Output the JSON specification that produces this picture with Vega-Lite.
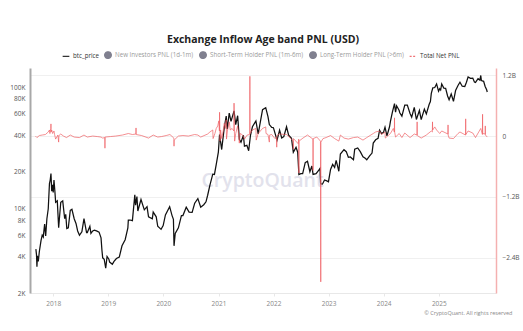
{
  "$schema": "https://vega.github.io/schema/vega-lite/v6.json",
  "width": 466,
  "height": 225,
  "autosize": {"type": "none"},
  "padding": {"left": 30, "top": 68, "right": 27, "bottom": 38},
  "background": "white",
  "title": {"text": "Exchange Inflow Age band PNL (USD)", "fontSize": 10.5, "fontWeight": "bold", "font": "Open Sans", "color": "#222222", "anchor": "middle", "offset": 6},
  "datasets": {
    "btc": [
      {"d":"2017-09-08","p":4600},{"d":"2017-09-12","p":4150},{"d":"2017-09-15","p":3300},{"d":"2017-09-18","p":4050},{"d":"2017-09-24","p":3650},{"d":"2017-10-01","p":4400},{"d":"2017-10-12","p":5400},{"d":"2017-10-20","p":6000},{"d":"2017-10-27","p":5800},{"d":"2017-11-05","p":7400},{"d":"2017-11-12","p":5900},{"d":"2017-11-20","p":8200},{"d":"2017-11-29","p":9900},{"d":"2017-12-07","p":16000},{"d":"2017-12-12","p":17100},{"d":"2017-12-17","p":19300},{"d":"2017-12-22","p":13800},{"d":"2017-12-27","p":15600},
      {"d":"2018-01-01","p":13500},{"d":"2018-01-06","p":17100},{"d":"2018-01-12","p":13800},{"d":"2018-01-17","p":11200},{"d":"2018-01-28","p":11500},{"d":"2018-02-06","p":6900},{"d":"2018-02-12","p":8500},{"d":"2018-02-20","p":11200},{"d":"2018-03-05","p":11500},{"d":"2018-03-18","p":8200},{"d":"2018-03-25","p":8900},{"d":"2018-04-01","p":6800},{"d":"2018-04-11","p":6900},{"d":"2018-04-24","p":9600},{"d":"2018-05-05","p":9800},{"d":"2018-05-20","p":8200},{"d":"2018-06-01","p":7500},{"d":"2018-06-12","p":6500},{"d":"2018-06-24","p":6000},{"d":"2018-07-10","p":6400},{"d":"2018-07-24","p":8200},{"d":"2018-08-10","p":6300},{"d":"2018-08-15","p":6300},{"d":"2018-09-01","p":7100},{"d":"2018-09-08","p":6200},{"d":"2018-09-20","p":6500},{"d":"2018-10-01","p":6600},{"d":"2018-10-15","p":6500},{"d":"2018-11-01","p":6350},{"d":"2018-11-14","p":5700},{"d":"2018-11-20","p":4500},{"d":"2018-11-25","p":3900},{"d":"2018-12-05","p":3800},{"d":"2018-12-15","p":3200},{"d":"2018-12-24","p":4000},
      {"d":"2019-01-05","p":3800},{"d":"2019-01-10","p":3600},{"d":"2019-01-28","p":3450},{"d":"2019-02-08","p":3650},{"d":"2019-02-24","p":3850},{"d":"2019-03-15","p":3950},{"d":"2019-04-02","p":4900},{"d":"2019-04-23","p":5500},{"d":"2019-05-11","p":6900},{"d":"2019-05-14","p":8000},{"d":"2019-05-25","p":8000},{"d":"2019-06-10","p":7900},{"d":"2019-06-26","p":12900},{"d":"2019-07-01","p":10600},{"d":"2019-07-10","p":12500},{"d":"2019-07-16","p":9500},{"d":"2019-08-06","p":11800},{"d":"2019-08-28","p":9700},{"d":"2019-09-15","p":10300},{"d":"2019-09-25","p":8500},{"d":"2019-10-20","p":8200},{"d":"2019-10-26","p":9300},{"d":"2019-11-15","p":8500},{"d":"2019-11-25","p":7100},{"d":"2019-12-17","p":6700},{"d":"2019-12-31","p":7200},
      {"d":"2020-01-15","p":8800},{"d":"2020-02-12","p":10300},{"d":"2020-02-28","p":8700},{"d":"2020-03-08","p":8100},{"d":"2020-03-12","p":4900},{"d":"2020-03-20","p":6200},{"d":"2020-04-10","p":6900},{"d":"2020-04-30","p":8700},{"d":"2020-05-10","p":8700},{"d":"2020-06-01","p":10200},{"d":"2020-06-20","p":9300},{"d":"2020-07-10","p":9250},{"d":"2020-07-27","p":11000},{"d":"2020-08-17","p":12000},{"d":"2020-09-05","p":10200},{"d":"2020-09-25","p":10700},{"d":"2020-10-10","p":11300},{"d":"2020-10-21","p":12800},{"d":"2020-11-05","p":15500},{"d":"2020-11-24","p":19100},{"d":"2020-12-05","p":19000},{"d":"2020-12-17","p":23000},{"d":"2020-12-31","p":29000},
      {"d":"2021-01-08","p":40500},{"d":"2021-01-22","p":30500},{"d":"2021-02-08","p":46000},{"d":"2021-02-21","p":57500},{"d":"2021-02-28","p":45000},{"d":"2021-03-13","p":61000},{"d":"2021-03-25","p":52000},{"d":"2021-04-14","p":63500},{"d":"2021-04-25","p":49000},{"d":"2021-05-08","p":58000},{"d":"2021-05-19","p":37000},{"d":"2021-05-30","p":35000},{"d":"2021-06-15","p":40000},{"d":"2021-06-22","p":32500},{"d":"2021-07-08","p":33000},{"d":"2021-07-20","p":29800},{"d":"2021-08-01","p":40000},{"d":"2021-08-14","p":47000},{"d":"2021-09-06","p":52500},{"d":"2021-09-21","p":41000},{"d":"2021-10-01","p":48000},{"d":"2021-10-20","p":65000},{"d":"2021-11-10","p":67500},{"d":"2021-11-25","p":57000},{"d":"2021-12-04","p":49000},{"d":"2021-12-20","p":46500},{"d":"2021-12-31","p":46200},
      {"d":"2022-01-10","p":41800},{"d":"2022-01-24","p":36500},{"d":"2022-02-10","p":44000},{"d":"2022-02-24","p":38000},{"d":"2022-03-10","p":39000},{"d":"2022-03-28","p":47000},{"d":"2022-04-11","p":40000},{"d":"2022-04-30","p":37700},{"d":"2022-05-12","p":29000},{"d":"2022-05-30","p":31800},{"d":"2022-06-10","p":29000},{"d":"2022-06-18","p":19000},{"d":"2022-07-01","p":19300},{"d":"2022-07-13","p":19300},{"d":"2022-07-30","p":23800},{"d":"2022-08-14","p":24400},{"d":"2022-08-30","p":20000},{"d":"2022-09-12","p":22300},{"d":"2022-09-20","p":19000},{"d":"2022-10-10","p":19300},{"d":"2022-10-28","p":20600},{"d":"2022-11-05","p":21300},{"d":"2022-11-09","p":15900},{"d":"2022-11-21","p":15800},{"d":"2022-12-05","p":17100},{"d":"2022-12-20","p":16800},{"d":"2022-12-31","p":16550},
      {"d":"2023-01-14","p":20900},{"d":"2023-01-28","p":23000},{"d":"2023-02-10","p":21700},{"d":"2023-02-20","p":24800},{"d":"2023-03-10","p":20200},{"d":"2023-03-20","p":28000},{"d":"2023-04-13","p":30400},{"d":"2023-04-28","p":29300},{"d":"2023-05-12","p":26300},{"d":"2023-05-25","p":26500},{"d":"2023-06-15","p":25100},{"d":"2023-06-23","p":30700},{"d":"2023-07-13","p":31400},{"d":"2023-07-30","p":29300},{"d":"2023-08-17","p":26600},{"d":"2023-09-01","p":25800},{"d":"2023-09-11","p":25100},{"d":"2023-09-30","p":27000},{"d":"2023-10-16","p":28500},{"d":"2023-10-24","p":34500},{"d":"2023-11-09","p":36700},{"d":"2023-11-25","p":37700},{"d":"2023-12-05","p":44000},{"d":"2023-12-18","p":41300},{"d":"2023-12-31","p":42300},
      {"d":"2024-01-10","p":46600},{"d":"2024-01-23","p":39500},{"d":"2024-02-09","p":47000},{"d":"2024-02-15","p":52000},{"d":"2024-02-28","p":62000},{"d":"2024-03-13","p":73000},{"d":"2024-03-20","p":62000},{"d":"2024-03-27","p":70000},{"d":"2024-04-13","p":64000},{"d":"2024-04-17","p":61300},{"d":"2024-05-01","p":57500},{"d":"2024-05-20","p":71000},{"d":"2024-06-06","p":71000},{"d":"2024-06-24","p":60500},{"d":"2024-07-05","p":56500},{"d":"2024-07-22","p":68000},{"d":"2024-08-05","p":54000},{"d":"2024-08-25","p":64000},{"d":"2024-09-06","p":53900},{"d":"2024-09-27","p":65800},{"d":"2024-10-10","p":60000},{"d":"2024-10-29","p":72000},{"d":"2024-11-06","p":75800},{"d":"2024-11-12","p":88500},{"d":"2024-11-22","p":98500},{"d":"2024-12-05","p":99000},{"d":"2024-12-17","p":106000},{"d":"2024-12-30","p":92500},
      {"d":"2025-01-07","p":96900},{"d":"2025-01-13","p":94500},{"d":"2025-01-20","p":106000},{"d":"2025-02-03","p":98000},{"d":"2025-02-15","p":97500},{"d":"2025-02-28","p":84300},{"d":"2025-03-10","p":78500},{"d":"2025-03-24","p":87500},{"d":"2025-04-08","p":76300},{"d":"2025-04-22","p":93500},{"d":"2025-05-08","p":103000},{"d":"2025-05-21","p":109500},{"d":"2025-06-05","p":101500},{"d":"2025-06-22","p":101000},{"d":"2025-07-03","p":109500},{"d":"2025-07-14","p":121000},{"d":"2025-07-30","p":118000},{"d":"2025-08-14","p":118500},{"d":"2025-08-25","p":110000},{"d":"2025-09-01","p":109000},{"d":"2025-09-18","p":117000},{"d":"2025-09-30","p":114000},{"d":"2025-10-06","p":124500},{"d":"2025-10-10","p":113000},{"d":"2025-10-25","p":111500},{"d":"2025-11-04","p":101000},{"d":"2025-11-14","p":95000},{"d":"2025-11-18","p":91000}
    ],
    "pnl": [
      {"d":"2017-09-05","v":0},{"d":"2017-09-15","v":-3e7},{"d":"2017-10-01","v":1e7},{"d":"2017-10-20","v":2e7},{"d":"2017-11-10","v":3e7},{"d":"2017-11-29","v":8e7},{"d":"2017-12-07","v":1.2e8},{"d":"2017-12-10","v":5e7},{"d":"2017-12-16","v":1.5e8},{"d":"2017-12-17","v":2.4e8},{"d":"2017-12-18","v":8e7},{"d":"2017-12-22","v":1.2e8},{"d":"2017-12-28","v":5e7},
      {"d":"2018-01-06","v":1e8},{"d":"2018-01-10","v":3e7},{"d":"2018-01-17","v":-6e7},{"d":"2018-02-01","v":2e7},{"d":"2018-02-06","v":-1.2e8},{"d":"2018-02-08","v":1e7},{"d":"2018-02-20","v":4e7},{"d":"2018-03-10","v":0},{"d":"2018-03-30","v":-3e7},{"d":"2018-04-24","v":2e7},{"d":"2018-05-20","v":-2e7},{"d":"2018-06-24","v":-3e7},{"d":"2018-07-24","v":2e7},{"d":"2018-08-15","v":-2e7},{"d":"2018-09-20","v":0},{"d":"2018-10-20","v":-1e7},{"d":"2018-11-14","v":-2e7},{"d":"2018-11-25","v":-4e7},{"d":"2018-12-09","v":-3e7},{"d":"2018-12-10","v":-2.4e8},{"d":"2018-12-11","v":-2e7},
      {"d":"2019-01-15","v":-1e7},{"d":"2019-02-20","v":0},{"d":"2019-04-05","v":2e7},{"d":"2019-05-14","v":5e7},{"d":"2019-06-10","v":3e7},{"d":"2019-07-03","v":4e7},{"d":"2019-07-04","v":1.6e8},{"d":"2019-07-05","v":3e7},{"d":"2019-08-10","v":1e7},{"d":"2019-09-25","v":-4e7},{"d":"2019-10-26","v":2e7},{"d":"2019-11-25","v":-2e7},{"d":"2019-12-20","v":-1e7},
      {"d":"2020-01-20","v":1e7},{"d":"2020-02-14","v":3e7},{"d":"2020-03-11","v":-4e7},{"d":"2020-03-12","v":-2e8},{"d":"2020-03-13","v":-8e7},{"d":"2020-04-10","v":0},{"d":"2020-05-10","v":1e7},{"d":"2020-06-15","v":0},{"d":"2020-07-27","v":3e7},{"d":"2020-08-17","v":2e7},{"d":"2020-09-05","v":-2e7},{"d":"2020-10-21","v":4e7},{"d":"2020-11-05","v":8e7},{"d":"2020-11-24","v":1.2e8},{"d":"2020-11-26","v":-5e7},{"d":"2020-12-08","v":5e7},{"d":"2020-12-17","v":1.5e8},{"d":"2020-12-27","v":2e8},
      {"d":"2021-01-03","v":3e8},{"d":"2021-01-07","v":1e8},{"d":"2021-01-08","v":4.7e8},{"d":"2021-01-10","v":1e8},{"d":"2021-01-11","v":-1e8},{"d":"2021-01-15","v":1.2e8},{"d":"2021-01-22","v":-5e7},{"d":"2021-02-01","v":1e8},{"d":"2021-02-08","v":2.5e8},{"d":"2021-02-15","v":1.5e8},{"d":"2021-02-21","v":3.2e8},{"d":"2021-02-23","v":-6e7},{"d":"2021-03-01","v":1e8},{"d":"2021-03-13","v":2.8e8},{"d":"2021-03-20","v":1.2e8},{"d":"2021-04-01","v":1.5e8},{"d":"2021-04-13","v":1e8},{"d":"2021-04-14","v":6.5e8},{"d":"2021-04-16","v":1.2e8},{"d":"2021-04-18","v":-1e8},{"d":"2021-04-25","v":5e7},{"d":"2021-05-08","v":2e8},{"d":"2021-05-12","v":1e8},{"d":"2021-05-19","v":-1.4e8},{"d":"2021-05-25","v":5e7},{"d":"2021-06-10","v":2e7},{"d":"2021-06-22","v":-6e7},{"d":"2021-07-10","v":2e7},{"d":"2021-07-27","v":3e7},{"d":"2021-07-28","v":1.18e9},{"d":"2021-07-29","v":5e7},{"d":"2021-08-14","v":1.2e8},{"d":"2021-09-06","v":1.5e8},{"d":"2021-09-08","v":-8e7},{"d":"2021-09-21","v":5e7},{"d":"2021-10-20","v":1.5e8},{"d":"2021-11-10","v":1.8e8},{"d":"2021-11-12","v":5e7},{"d":"2021-11-25","v":3e7},{"d":"2021-12-04","v":-1.2e8},{"d":"2021-12-06","v":2e7},{"d":"2021-12-20","v":3e7},
      {"d":"2022-01-10","v":-5e7},{"d":"2022-01-21","v":-3e7},{"d":"2022-01-22","v":-2.2e8},{"d":"2022-01-23","v":1e7},{"d":"2022-02-10","v":4e7},{"d":"2022-03-28","v":3e7},{"d":"2022-04-20","v":-3e7},{"d":"2022-05-11","v":-1e8},{"d":"2022-05-12","v":-2.6e8},{"d":"2022-05-13","v":-5e7},{"d":"2022-06-13","v":-1.5e8},{"d":"2022-06-17","v":-6e7},{"d":"2022-06-18","v":-7.3e8},{"d":"2022-06-19","v":-1e8},{"d":"2022-07-15","v":-4e7},{"d":"2022-08-14","v":2e7},{"d":"2022-09-19","v":-6e7},{"d":"2022-09-20","v":-6.8e8},{"d":"2022-09-21","v":-5e7},{"d":"2022-10-15","v":-2e7},{"d":"2022-11-08","v":-1e8},{"d":"2022-11-10","v":-2.88e9},{"d":"2022-11-11","v":-1.2e8},{"d":"2022-11-25","v":-5e7},{"d":"2022-12-15","v":-3e7},
      {"d":"2023-01-14","v":1e7},{"d":"2023-02-10","v":-5e7},{"d":"2023-03-10","v":-1e8},{"d":"2023-03-20","v":2e7},{"d":"2023-04-13","v":-4e7},{"d":"2023-05-12","v":-6e7},{"d":"2023-06-15","v":-3e7},{"d":"2023-07-13","v":-2e7},{"d":"2023-08-17","v":-8e7},{"d":"2023-09-11","v":-3e7},{"d":"2023-10-24","v":5e7},{"d":"2023-11-09","v":8e7},{"d":"2023-12-05","v":1e8},{"d":"2023-12-18","v":3e7},
      {"d":"2024-01-10","v":8e7},{"d":"2024-01-12","v":-4e7},{"d":"2024-02-15","v":5e7},{"d":"2024-03-05","v":1.5e8},{"d":"2024-03-12","v":8e7},{"d":"2024-03-13","v":3.6e8},{"d":"2024-03-14","v":8e7},{"d":"2024-03-20","v":-2e7},{"d":"2024-04-13","v":5e7},{"d":"2024-05-01","v":-3e7},{"d":"2024-05-20","v":6e7},{"d":"2024-06-24","v":-3e7},{"d":"2024-07-22","v":4e7},{"d":"2024-08-09","v":2e7},{"d":"2024-08-10","v":2.8e8},{"d":"2024-08-11","v":1e7},{"d":"2024-09-06","v":-4e7},{"d":"2024-10-10","v":2e7},{"d":"2024-11-12","v":1e8},{"d":"2024-11-19","v":8e7},{"d":"2024-11-20","v":2.8e8},{"d":"2024-11-21","v":1.2e8},{"d":"2024-12-05","v":1.8e8},{"d":"2024-12-17","v":1.2e8},
      {"d":"2025-01-07","v":5e7},{"d":"2025-01-20","v":1e8},{"d":"2025-03-02","v":4e7},{"d":"2025-03-03","v":2.2e8},{"d":"2025-03-04","v":2e7},{"d":"2025-03-10","v":-4e7},{"d":"2025-04-08","v":-5e7},{"d":"2025-05-08","v":5e7},{"d":"2025-05-21","v":8e7},{"d":"2025-06-27","v":2e7},{"d":"2025-06-28","v":3.4e8},{"d":"2025-06-29","v":3e7},{"d":"2025-07-14","v":1e8},{"d":"2025-08-14","v":6e7},{"d":"2025-09-01","v":-3e7},{"d":"2025-10-06","v":1.5e8},{"d":"2025-10-17","v":3e7},{"d":"2025-10-18","v":4.3e8},{"d":"2025-10-19","v":5e7},{"d":"2025-11-04","v":4e7},{"d":"2025-11-05","v":2e8},{"d":"2025-11-06","v":2e7},{"d":"2025-11-18","v":-2e7}
    ],
    "mark": [{"label": "CryptoQuant", "d": "2021-10-20", "p": 16800}]
  },
  "layer": [
    {
      "layer": [
        {
          "data": {"name": "mark"},
          "mark": {"type": "text", "font": "Open Sans", "fontSize": 19.5, "fontWeight": 600, "color": "#e2e2ec", "align": "center", "baseline": "middle"},
          "encoding": {
            "x": {"field": "d", "type": "temporal"},
            "y": {"field": "p", "type": "quantitative"},
            "text": {"field": "label"}
          }
        },
        {
          "data": {"name": "btc"},
          "mark": {"type": "line", "strokeWidth": 1.25, "interpolate": "linear"},
          "encoding": {
            "x": {
              "field": "d", "type": "temporal",
              "scale": {"domain": ["2017-07-31", "2026-01-15"]},
              "axis": {
                "title": "© CryptoQuant. All rights reserved",
                "titleFont": "Open Sans", "titleFontSize": 5.5, "titleFontWeight": "normal", "titleColor": "#888888",
                "titleAnchor": "end", "titleAlign": "right", "titleX": 482, "titleY": 19, "titleBaseline": "middle",
                "format": "%Y",
                "values": [{"year": 2018, "month": 1, "date": 1}, {"year": 2019, "month": 1, "date": 1}, {"year": 2020, "month": 1, "date": 1}, {"year": 2021, "month": 1, "date": 1}, {"year": 2022, "month": 1, "date": 1}, {"year": 2023, "month": 1, "date": 1}, {"year": 2024, "month": 1, "date": 1}, {"year": 2025, "month": 1, "date": 1}],
                "labelFont": "Open Sans", "labelFontSize": 6.5, "labelColor": "#888888", "labelPadding": 4,
                "domainColor": "#e8e8e8", "tickColor": "#e8e8e8", "tickSize": 3, "grid": false
              }
            },
            "y": {
              "field": "p", "type": "quantitative",
              "scale": {"type": "log", "domain": [2000, 143500], "nice": false},
              "axis": {
                "orient": "left", "title": null, "grid": false, "ticks": false,
                "values": [2000, 4000, 6000, 8000, 10000, 20000, 40000, 60000, 80000, 100000],
                "labelExpr": "(datum.value / 1000) + 'K'",
                "labelFont": "Open Sans", "labelFontSize": 6.5, "labelColor": "#555555", "labelPadding": 5,
                "domainColor": "#a8a8a8", "domainWidth": 2
              }
            },
            "color": {
              "datum": "btc_price", "type": "nominal",
              "scale": {
                "domain": ["btc_price", "New Investors PNL (1d-1m)", "Short-Term Holder PNL (1m-6m)", "Long-Term Holder PNL (>6m)", "Total Net PNL"],
                "range": ["#111111", "#6a6a7c", "#6a6a7c", "#6a6a7c", "#ee5a5f"]
              },
              "legend": {
                "orient": "none", "legendX": 32, "legendY": -17, "direction": "horizontal", "title": null,
                "labelFont": "Open Sans", "labelFontSize": 6.2, "labelLimit": 200, "columnPadding": 3, "labelOffset": 3,
                "labelColor": {"expr": "(datum.value == 'btc_price' || datum.value == 'Total Net PNL') ? '#333333' : '#9a9a9a'"},
                "symbolType": {"expr": "(datum.value == 'btc_price' || datum.value == 'Total Net PNL') ? 'stroke' : 'circle'"},
                "symbolFillColor": {"expr": "(datum.value == 'btc_price' || datum.value == 'Total Net PNL') ? 'transparent' : '#6a6a7c'"},
                "symbolDash": {"expr": "datum.value == 'Total Net PNL' ? [2, 1.5] : [1, 0]"},
                "symbolSize": 45, "symbolStrokeWidth": 1.2
              }
            }
          }
        }
      ]
    },
    {
      "data": {"name": "pnl"},
      "mark": {"type": "line", "strokeWidth": 0.8, "opacity": 0.85, "clip": true},
      "encoding": {
        "x": {"field": "d", "type": "temporal"},
        "y": {
          "field": "v", "type": "quantitative",
          "scale": {"domain": [-3.1e9, 1.344e9], "nice": false, "zero": false},
          "axis": {
            "orient": "right", "title": null, "ticks": false,
            "values": [-2400000000, -1200000000, 0, 1200000000],
            "labelExpr": "datum.value == 0 ? '0' : format(datum.value / 1e9, '.1f') + 'B'",
            "labelFont": "Open Sans", "labelFontSize": 6.5, "labelColor": "#555555", "labelPadding": 6,
            "grid": true, "gridColor": "#f0f0f0",
            "domainColor": "#f4b0b0", "domainWidth": 1.5
          }
        },
        "color": {"datum": "Total Net PNL", "type": "nominal"}
      }
    }
  ],
  "resolve": {"scale": {"y": "independent"}},
  "config": {"view": {"stroke": null}}
}
